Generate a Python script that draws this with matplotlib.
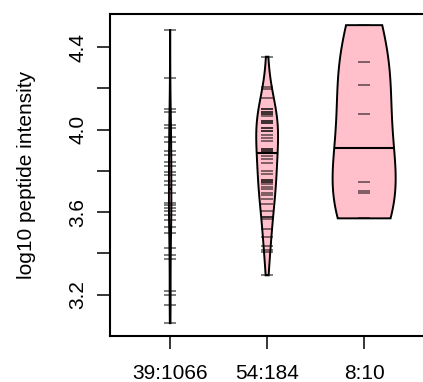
import numpy as np
import matplotlib.pyplot as plt
from matplotlib.patches import Polygon

plt.rcParams['font.family'] = ['Liberation Sans', 'DejaVu Sans']

# ------------------
# data (log10 peptide intensity)

groups = ['39:1066', '54:184', '8:10']

vals_a = [4.482, 4.250, 4.100, 4.086, 4.023, 4.009, 3.965, 3.941, 3.898, 3.878,
          3.844, 3.825, 3.796, 3.782, 3.753, 3.733, 3.695, 3.646, 3.637, 3.622,
          3.608, 3.588, 3.564, 3.526, 3.497, 3.424, 3.390, 3.371, 3.217, 3.197,
          3.149, 3.062]

vals_b = [4.353, 4.208, 4.196, 4.152, 4.099, 4.099, 4.087, 4.087, 4.076, 4.076,
          4.067, 4.043, 4.043, 4.034, 4.034, 4.010, 4.010, 3.991, 3.991, 3.975,
          3.959, 3.943, 3.906, 3.906, 3.898, 3.898, 3.889, 3.889, 3.873, 3.857,
          3.840, 3.798, 3.787, 3.757, 3.757, 3.746, 3.746, 3.737, 3.724, 3.714,
          3.693, 3.685, 3.664, 3.640, 3.604, 3.577, 3.577, 3.569, 3.519, 3.479,
          3.435, 3.419, 3.406, 3.294]

vals_c = [4.506, 4.328, 4.216, 4.076, 3.748, 3.704, 3.695, 3.570]

bandwidth = [0.10, 0.115, 0.25]
max_width = [0.025, 0.225, 0.65]

data = [vals_a, vals_b, vals_c]


def bean(v, bw, n=300):
    v = np.asarray(v)
    y = np.linspace(v.min(), v.max(), n)
    d = np.exp(-0.5 * ((y[:, None] - v[None, :]) / bw) ** 2).sum(axis=1)
    return y, d / d.max()


fig = plt.figure(figsize=(4.23, 3.82), dpi=100)
ax = fig.add_axes((110/423, 46/382, 318/423, 322/382))

for i, v in enumerate(data):
    pos = i + 1
    y, d = bean(v, bandwidth[i])
    hw = d * max_width[i] / 2
    xs = np.concatenate([pos - hw, (pos + hw)[::-1]])
    ys = np.concatenate([y, y[::-1]])
    ax.add_patch(Polygon(np.column_stack([xs, ys]), closed=True,
                         facecolor='pink', edgecolor='none', zorder=2))
    # beanlines
    ax.hlines(v, pos - 0.062, pos + 0.062, color='black', alpha=0.55,
              lw=1.3, zorder=3)
    ax.add_patch(Polygon(np.column_stack([xs, ys]), closed=True,
                         facecolor='none', edgecolor='black', lw=1.4, zorder=4))
    # median line across the bean
    med = np.median(v)
    w = np.interp(med, y, hw)
    ax.hlines(med, pos - w, pos + w, color='black', lw=1.5, zorder=5)

ax.set_xlim(0.38, 0.38 + 318/97)
ax.set_ylim(3.0, 4.56)

ax.set_xticks([1, 2, 3])
ax.set_xticklabels(groups, fontsize=15)
yt = [3.2, 3.4, 3.6, 3.8, 4.0, 4.2, 4.4]
ax.set_yticks(yt)
ax.set_yticklabels([f'{t:.1f}' if i % 2 == 0 else '' for i, t in enumerate(yt)],
                   fontsize=15, rotation=90, va='center')
ax.tick_params(length=9.4, width=1.1)
ax.tick_params(axis='y', pad=7)
ax.tick_params(axis='x', pad=11)

for s in ax.spines.values():
    s.set_linewidth(1.5)

ax.set_ylabel('log10 peptide intensity', fontsize=15)
ax.yaxis.set_label_coords(-0.232, 0.5)

fig.savefig('out.png', dpi=100)
